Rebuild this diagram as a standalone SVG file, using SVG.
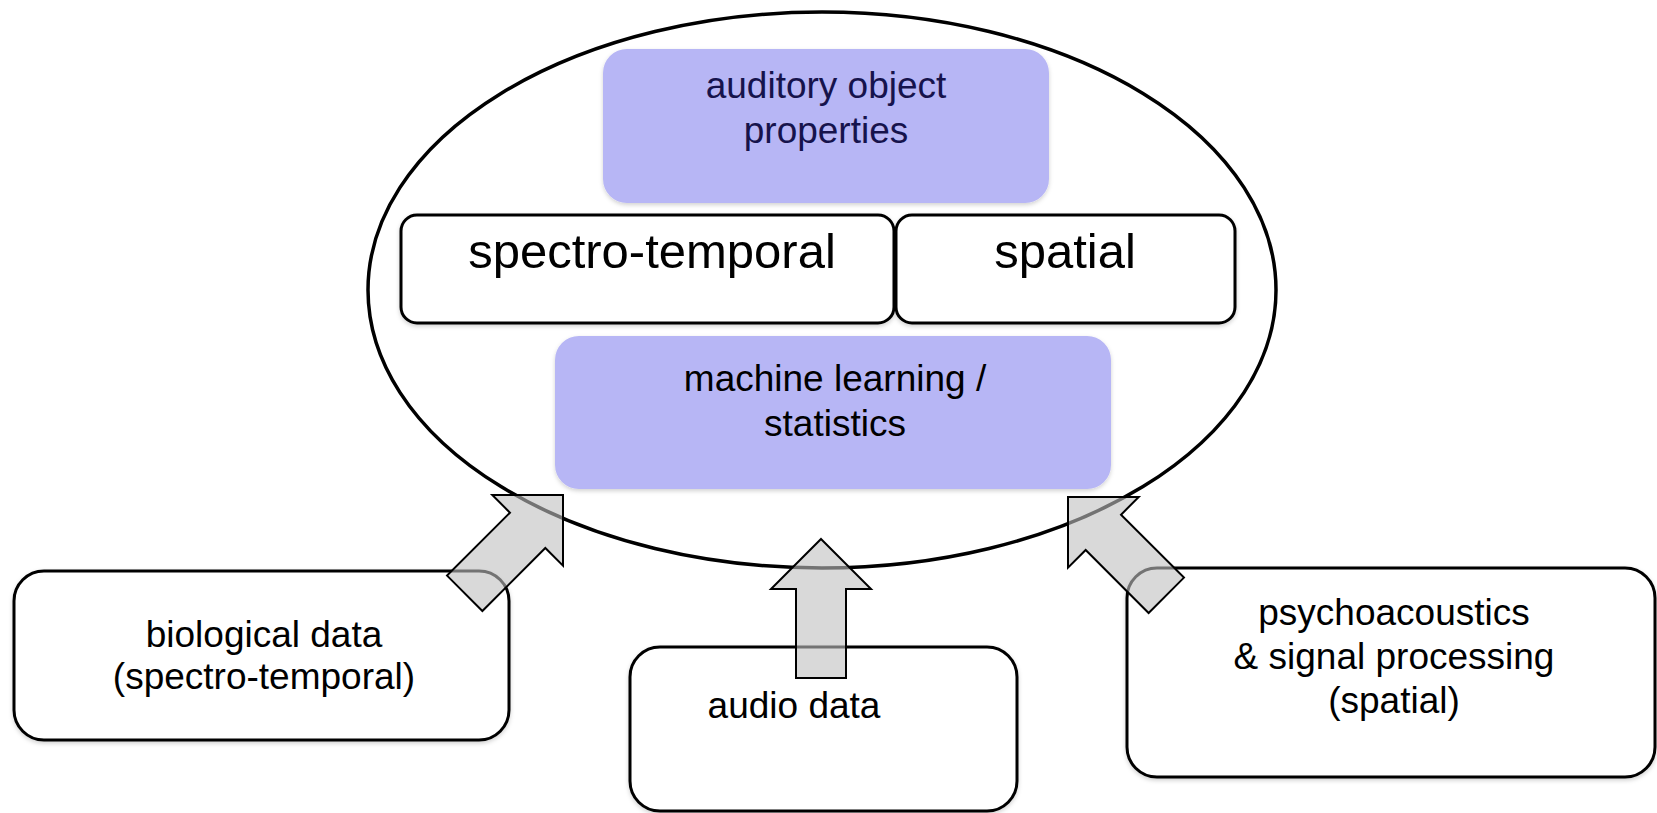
<svg xmlns="http://www.w3.org/2000/svg" width="1657" height="813" viewBox="0 0 1657 813">
<style>
text{font-family:"Liberation Sans",Arial,sans-serif;text-anchor:middle;fill:#000}
.box{fill:#fff;stroke:#000;stroke-width:3}
.pbox{fill:#b7b6f5;stroke:none}
.arrow{fill:#bfbfbf;fill-opacity:0.6;stroke:#000;stroke-width:2;stroke-linejoin:miter}
.t37{font-size:37px}
.t49{font-size:49px}
</style>
<defs>
<filter id="sh" x="-5%" y="-5%" width="110%" height="115%">
<feDropShadow dx="0" dy="2" stdDeviation="2" flood-color="#000" flood-opacity="0.18"/>
</filter>
<polygon id="blockArrow" points="0,0 50,50 25,50 25,139 -25,139 -25,50 -50,50"/>
</defs>
<rect width="1657" height="813" fill="#fff"/>
<g id="core">
<ellipse cx="822" cy="290" rx="454" ry="278" fill="#fff" stroke="#000" stroke-width="3.5"/>
</g>
<g id="auditory-object-properties">
<rect class="pbox" x="603" y="49" width="446" height="154" rx="24" filter="url(#sh)"/>
<text class="t37" x="826" y="98" style="fill:#16134c">auditory object</text>
<text class="t37" x="826" y="143" style="fill:#16134c">properties</text>
</g>
<g id="spectro-temporal">
<rect class="box" x="401" y="215" width="493" height="108" rx="16" filter="url(#sh)"/>
<text class="t49" x="652" y="268">spectro-temporal</text>
</g>
<g id="spatial">
<rect class="box" x="896" y="215" width="339" height="108" rx="16" filter="url(#sh)"/>
<text class="t49" x="1065" y="268">spatial</text>
</g>
<g id="machine-learning">
<rect class="pbox" x="555" y="336" width="556" height="153" rx="24" filter="url(#sh)"/>
<text class="t37" x="835" y="391">machine learning /</text>
<text class="t37" x="835" y="436">statistics</text>
</g>
<g id="biological-data">
<rect class="box" x="14" y="571" width="495" height="169" rx="30" filter="url(#sh)"/>
<text class="t37" x="264" y="647">biological data</text>
<text class="t37" x="264" y="689">(spectro-temporal)</text>
</g>
<g id="audio-data">
<rect class="box" x="630" y="647" width="387" height="164" rx="30" filter="url(#sh)"/>
<text class="t37" x="794" y="718">audio data</text>
</g>
<g id="psychoacoustics">
<rect class="box" x="1127" y="568" width="528" height="209" rx="30" filter="url(#sh)"/>
<text class="t37" x="1394" y="625">psychoacoustics</text>
<text class="t37" x="1394" y="669">&amp; signal processing</text>
<text class="t37" x="1394" y="713">(spatial)</text>
</g>
<g id="connectors">
<use href="#blockArrow" class="arrow" transform="translate(563,495) rotate(45)"/>
<use href="#blockArrow" class="arrow" transform="translate(821,539)"/>
<use href="#blockArrow" class="arrow" transform="translate(1068,497) rotate(-45)"/>
</g>
</svg>
